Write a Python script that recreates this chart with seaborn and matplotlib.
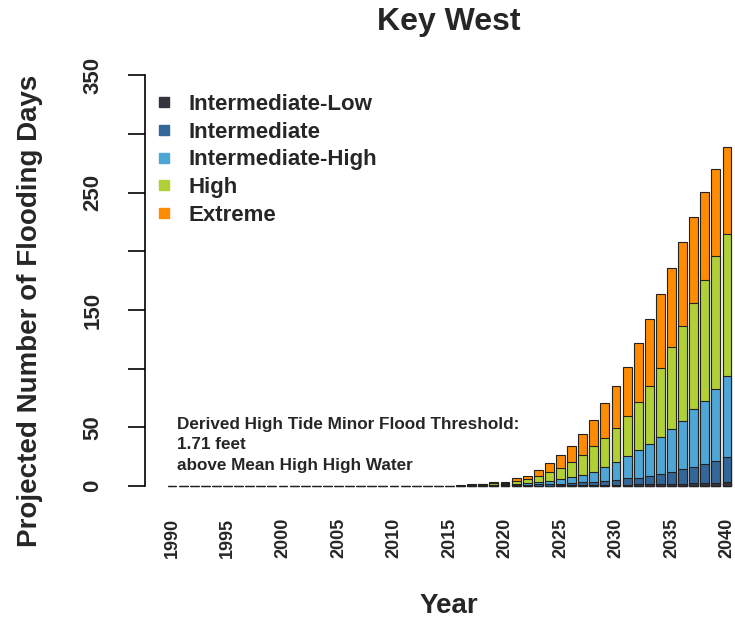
import numpy as np
import pandas as pd
import matplotlib
matplotlib.use("Agg")
import matplotlib.pyplot as plt
from matplotlib.lines import Line2D
import seaborn as sns

years = list(range(1990, 2041))
zeros26 = [0] * 26  # 1990-2015

extreme = zeros26 + [0.5, 2, 2, 3.7, 3.7, 6.5, 8.8, 14, 20, 26.4, 34.5, 44.5,
                     56, 70.5, 85.3, 101.7, 121.6, 142.4, 164, 185.6, 207.7,
                     229.6, 251, 270, 288.7]
high = zeros26 + [0.3, 1, 1.7, 2.4, 2.8, 4.5, 6, 8.5, 11.6, 15.6, 20.7, 26.7,
                  33.8, 40.8, 49.1, 59.8, 71.2, 85.5, 100.9, 118.2, 136.4,
                  155.7, 175.6, 196.3, 214.5]
int_high = zeros26 + [0, 0.3, 0.7, 1, 1.5, 2, 2.5, 3.5, 4.5, 6, 7.5, 9.4,
                      12.2, 16.5, 20.7, 25.8, 30.4, 35.5, 41.5, 48.3, 55.7,
                      65.4, 72.7, 82.7, 93.8]
intermediate = zeros26 + [0, 0.2, 0.3, 0.5, 0.7, 0.9, 1.1, 1.4, 1.7, 2, 2.5, 3,
                          3.7, 4.5, 5, 6.5, 7, 8.5, 10.2, 11.7, 14.5, 16.5,
                          18.5, 21.6, 25]
int_low = zeros26 + [0, 0.1, 0.1, 0.1, 0.2, 0.2, 0.3, 0.3, 0.4, 0.5, 0.6, 0.7,
                     0.8, 0.9, 1, 1.2, 1.3, 1.5, 1.6, 1.8, 2, 2.3, 2.5, 2.8, 3]

labels = ["Intermediate-Low", "Intermediate", "Intermediate-High", "High", "Extreme"]
colors = ["#33343f", "#336699", "#4ea6d6", "#b0d036", "#ff8c00"]
series = [int_low, intermediate, int_high, high, extreme]

ytick_vals = [0, 50, 100, 150, 200, 250, 300, 350]
ytick_labels = ["0", "50", "", "150", "", "250", "", "350"]
xtick_vals = list(range(1990, 2041, 5))

sns.set_style("white")
plt.rcParams["font.family"] = ["Liberation Sans", "DejaVu Sans"]
plt.rcParams["font.weight"] = "bold"

W, H = 735, 626
fig = plt.figure(figsize=(W / 100, H / 100), dpi=100)
ax = fig.add_axes([145 / W, (H - 486) / H, 590 / W, (486 - 75.4) / H])

# draw tallest first (back) to smallest (front)
for vals, col in zip(series[::-1], colors[::-1]):
    df = pd.DataFrame({"year": years, "days": vals})
    sns.barplot(data=df, x="year", y="days", color=col, saturation=1,
                native_scale=True, width=0.8, errorbar=None,
                edgecolor="#222222", linewidth=0.8, ax=ax)
for p in ax.patches:
    p.set_clip_on(False)

ax.set_xlim(1987.57, 2040.72)
ax.set_ylim(0, 350)
for s in ["top", "right", "bottom"]:
    ax.spines[s].set_visible(False)
ax.spines["left"].set_bounds(0, 350)
ax.spines["left"].set_linewidth(1.2)
ax.spines["left"].set_color("black")

ax.set_yticks(ytick_vals)
ax.set_yticklabels(ytick_labels, rotation=90, va="center", fontsize=16,
                   fontweight="bold")
ax.tick_params(axis="y", length=12, width=1.2, pad=18, color="black", left=True)
ax.set_xticks(xtick_vals)
ax.set_xticklabels([str(v) for v in xtick_vals], rotation=90, fontsize=13,
                   fontweight="bold")
ax.tick_params(axis="x", length=0, pad=23)
ax.set_xlabel("")
ax.set_ylabel("")

fig.text(449 / W, 1 - 22 / H, "Key West", ha="center", va="center",
         fontsize=23, fontweight="bold")
fig.text(449 / W, 1 - 606 / H, "Year", ha="center", va="center",
         fontsize=20, fontweight="bold")
fig.text(30 / W, 1 - 311 / H, "Projected Number of Flooding Days", ha="center",
         va="center", rotation=90, fontsize=20, fontweight="bold")

fig.text(177 / W, 1 - 417 / H,
         "Derived High Tide Minor Flood Threshold:\n1.71 feet\nabove Mean High High Water",
         ha="left", va="top", fontsize=12.3, fontweight="bold", linespacing=1.45)

handles = [Line2D([0], [0], marker="s", linestyle="none", markersize=7,
                  markerfacecolor=c, markeredgecolor=c) for c in colors]
fig.legend(handles, labels, loc="upper left",
           bbox_to_anchor=(155 / W, 1 - 94 / H), frameon=False,
           prop={"size": 16, "weight": "bold"}, handlelength=0.8,
           handletextpad=0.7, labelspacing=0.3, borderpad=0, borderaxespad=0)

fig.savefig("out.png", dpi=100)
